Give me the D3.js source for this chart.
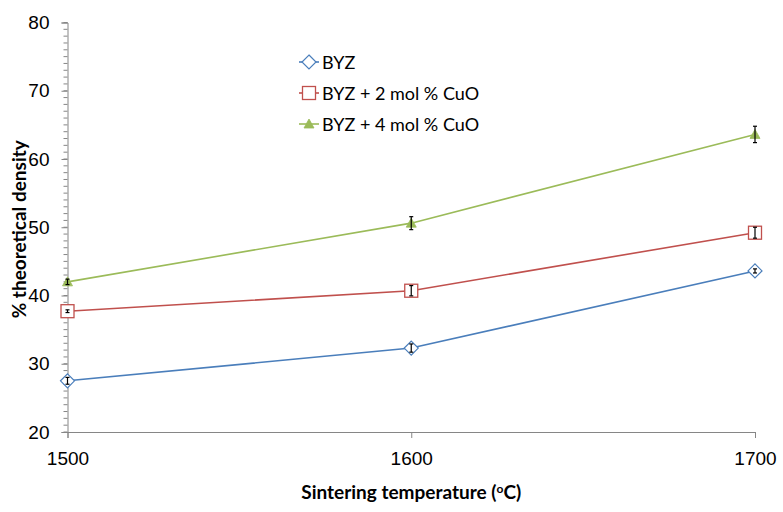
<!DOCTYPE html>
<html>
<head>
<meta charset="utf-8">
<script src="https://cdn.jsdelivr.net/npm/d3@7"></script>
<style>
  body { margin: 0; background: #fff; }
  svg { display: block; font-family: Lato, "Open Sans", sans-serif; }
</style>
</head>
<body>
<svg id="chart" width="783" height="512"></svg>
<script>
// data
const temperatures = [1500, 1600, 1700];
const seriesNames = ["BYZ", "BYZ + 2 mol % CuO", "BYZ + 4 mol % CuO"];
const byzValues = [27.5, 32.3, 43.6];
const byzErrors = [0.5, 0.6, 0.3];
const cuo2Values = [37.7, 40.7, 49.2];
const cuo2Errors = [0.2, 0.75, 0.8];
const cuo4Values = [42.0, 50.6, 63.6];
const cuo4Errors = [0.4, 0.95, 1.2];
const yTicks = [20, 30, 40, 50, 60, 70, 80];

const colors = ["#4A7EBB", "#C0504D", "#9BBB59"];
const markers = ["diamond", "square", "triangle"];

const svg = d3.select("#chart"),
      margin = { top: 22.5, right: 28, bottom: 80, left: 67.5 },
      width  = 783 - margin.left - margin.right,
      height = 512 - margin.top - margin.bottom;

const g = svg.append("g")
  .attr("transform", `translate(${margin.left},${margin.top})`);

const x = d3.scaleLinear().domain([1500, 1700]).range([0, width]);
const y = d3.scaleLinear().domain([20, 80]).range([height, 0]);

const axisColor = "#868686";

// minor ticks on y axis, every 1 unit
g.append("g")
  .selectAll("line")
  .data(d3.range(20, 81, 1))
  .join("line")
    .attr("x1", -4).attr("x2", 0)
    .attr("y1", d => y(d)).attr("y2", d => y(d))
    .attr("stroke", axisColor);

const yAxis = g.append("g")
  .call(d3.axisLeft(y).tickValues(yTicks).tickSize(6).tickPadding(12));
yAxis.select(".domain").attr("stroke", axisColor);
yAxis.selectAll(".tick line").attr("stroke", axisColor);
yAxis.selectAll("text")
  .attr("fill", "#000")
  .style("font-size", "19px");

const xAxis = g.append("g")
  .attr("transform", `translate(0,${height})`)
  .call(d3.axisBottom(x).tickValues(temperatures).tickSize(6).tickPadding(14).tickFormat(d3.format("d")));
xAxis.select(".domain").attr("stroke", axisColor);
xAxis.selectAll(".tick line").attr("stroke", axisColor);
xAxis.selectAll("text")
  .attr("fill", "#000")
  .style("font-size", "19px");

// axis titles
svg.append("text")
  .attr("transform", `translate(18,${margin.top + height / 2 + 2}) rotate(-90)`)
  .attr("text-anchor", "middle")
  .attr("dominant-baseline", "central")
  .style("font-size", "19px")
  .style("font-weight", "bold")
  .text("% theoretical density");

const xt = svg.append("text")
  .attr("x", margin.left + width / 2)
  .attr("y", 499)
  .attr("text-anchor", "middle")
  .style("font-size", "19px")
  .style("font-weight", "bold");
xt.append("tspan").text("Sintering temperature (");
xt.append("tspan").attr("dy", -6).style("font-size", "12px").text("o");
xt.append("tspan").attr("dy", 6).text("C)");

const series = [
  { name: seriesNames[0], values: byzValues, errors: byzErrors },
  { name: seriesNames[1], values: cuo2Values, errors: cuo2Errors },
  { name: seriesNames[2], values: cuo4Values, errors: cuo4Errors }
];

function drawMarker(sel, type, color) {
  if (type === "diamond") {
    sel.append("path")
      .attr("d", "M0,-7L7,0L0,7L-7,0Z")
      .attr("fill", "#fff").attr("stroke", color).attr("stroke-width", 1.2);
  } else if (type === "square") {
    sel.append("rect")
      .attr("x", -6.5).attr("y", -6.5).attr("width", 13).attr("height", 13)
      .attr("fill", "#fff").attr("stroke", color).attr("stroke-width", 1.3);
  } else {
    sel.append("path")
      .attr("d", "M0,-5L5,4L-5,4Z")
      .attr("fill", color).attr("stroke", color).attr("stroke-width", 0.8);
  }
}

const line = d3.line().x((d, i) => x(temperatures[i])).y(d => y(d));

series.forEach((s, k) => {
  g.append("path")
    .datum(s.values)
    .attr("fill", "none")
    .attr("stroke", colors[k])
    .attr("stroke-width", 1.6)
    .attr("d", line);

  s.values.forEach((v, i) => {
    const m = g.append("g").attr("transform", `translate(${x(temperatures[i])},${y(v)})`);
    drawMarker(m, markers[k], colors[k]);
    // error bar
    const eb = g.append("g").attr("stroke", "#000").attr("stroke-width", 1.2);
    const cx = x(temperatures[i]);
    eb.append("line")
      .attr("x1", cx).attr("x2", cx)
      .attr("y1", y(v - s.errors[i])).attr("y2", y(v + s.errors[i]));
    [v - s.errors[i], v + s.errors[i]].forEach(e => {
      eb.append("line")
        .attr("x1", cx - 2).attr("x2", cx + 2)
        .attr("y1", y(e)).attr("y2", y(e));
    });
  });
});

// legend
const legend = svg.append("g").attr("transform", "translate(299,62)");
series.forEach((s, k) => {
  const row = legend.append("g").attr("transform", `translate(0,${k * 31})`);
  row.append("line")
    .attr("x1", 0).attr("x2", 20)
    .attr("stroke", colors[k]).attr("stroke-width", 1.6);
  const m = row.append("g").attr("transform", "translate(10,0)");
  drawMarker(m, markers[k], colors[k]);
  row.append("text")
    .attr("x", 23)
    .attr("dominant-baseline", "central")
    .style("font-size", "18px")
    .text(s.name);
});
</script>
</body>
</html>
